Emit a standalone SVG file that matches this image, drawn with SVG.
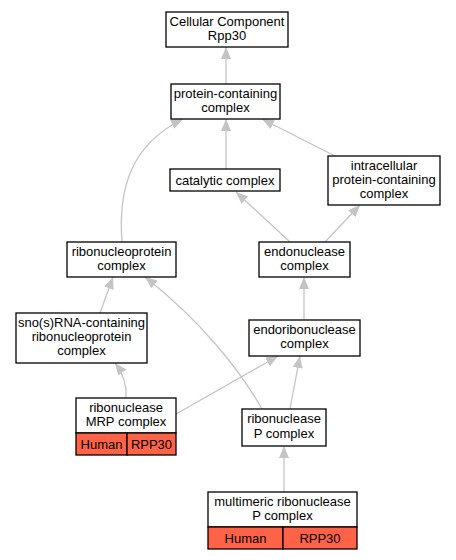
<svg xmlns="http://www.w3.org/2000/svg" width="456" height="560" viewBox="0 0 456 560">
<style>
.box{fill:#fff;stroke:#000;stroke-width:1.3}
.red{fill:#ff6347;stroke:#000;stroke-width:1.3}
text{font-family:"Liberation Sans",Arial,sans-serif;font-size:13px;text-anchor:middle;fill:#000}
.e{fill:none;stroke:#c4c4c4;stroke-width:1.3;marker-end:url(#ah)}
</style>
<defs>
<marker id="ah" markerUnits="userSpaceOnUse" markerWidth="12" markerHeight="12" viewBox="0 0 12 12" refX="12" refY="6" orient="auto">
<path d="M0,1 L12,6 L0,11 z" fill="#c4c4c4"/>
</marker>
</defs>
<rect width="456" height="560" fill="#fff"/>
<g id="connectors">
<path class="e" d="M226,84 L226,47"/>
<path class="e" d="M226,169 L226,119"/>
<path class="e" d="M122,242 C118,190 130,145 183,119"/>
<path class="e" d="M335,156 L262,119"/>
<path class="e" d="M290,242 L236,192"/>
<path class="e" d="M325,242 L360,205"/>
<path class="e" d="M304,320 L304,277"/>
<path class="e" d="M100,313 L113,277"/>
<path class="e" d="M126,398 C127,385 122,372 115,363"/>
<path class="e" d="M176,414 L278,356"/>
<path class="e" d="M290,409 L300,356"/>
<path class="e" d="M262,409 C240,370 200,320 145,277"/>
<path class="e" d="M284,492 L284,446"/>
</g>
<g id="n_cc"><rect class="box" x="166" y="12" width="122" height="35"/><text x="227" y="25.5">Cellular Component</text><text x="227" y="39.5">Rpp30</text></g>
<g id="n_pcc"><rect class="box" x="171" y="84" width="109" height="35"/><text x="225.5" y="97.5">protein-containing</text><text x="225.5" y="111.5">complex</text></g>
<g id="n_cat"><rect class="box" x="170" y="169" width="110" height="22"/><text x="225" y="184.5">catalytic complex</text></g>
<g id="n_ipcc"><rect class="box" x="328" y="156" width="112" height="49"/><text x="384" y="169.5">intracellular</text><text x="384" y="183.5">protein-containing</text><text x="384" y="197.5">complex</text></g>
<g id="n_endo"><rect class="box" x="259" y="242" width="91" height="35"/><text x="304.5" y="255.5">endonuclease</text><text x="304.5" y="269.5">complex</text></g>
<g id="n_rnp"><rect class="box" x="67" y="242" width="109" height="35"/><text x="121.5" y="255.5">ribonucleoprotein</text><text x="121.5" y="269.5">complex</text></g>
<g id="n_endori"><rect class="box" x="249" y="320" width="111" height="36"/><text x="304.5" y="333.5">endoribonuclease</text><text x="304.5" y="347.5">complex</text></g>
<g id="n_sno"><rect class="box" x="16" y="313" width="131" height="50"/><text x="81.5" y="326.5">sno(s)RNA-containing</text><text x="81.5" y="340.5">ribonucleoprotein</text><text x="81.5" y="354.5">complex</text></g>
<g id="n_mrp"><rect class="box" x="76" y="398" width="100" height="35"/><text x="126" y="411.5">ribonuclease</text><text x="126" y="425.5">MRP complex</text><rect class="red" x="76" y="433" width="51" height="22"/><rect class="red" x="127" y="433" width="49" height="22"/><text x="101.5" y="448.5">Human</text><text x="151.5" y="448.5">RPP30</text></g>
<g id="n_rnasep"><rect class="box" x="242" y="409" width="84" height="37"/><text x="284" y="422.5">ribonuclease</text><text x="284" y="437.5">P complex</text></g>
<g id="n_multi"><rect class="box" x="208" y="492" width="149" height="35"/><text x="282.5" y="505.5">multimeric ribonuclease</text><text x="282.5" y="519.5">P complex</text><rect class="red" x="208" y="527" width="75" height="22"/><rect class="red" x="283" y="527" width="74" height="22"/><text x="245.5" y="542.5">Human</text><text x="320" y="542.5">RPP30</text></g>
</svg>
